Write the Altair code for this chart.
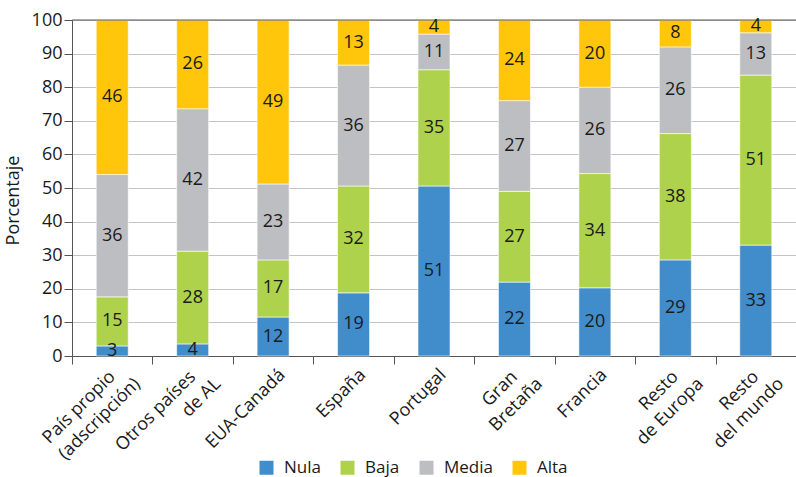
import altair as alt
import pandas as pd

categories = ["País propio (adscripción)", "Otros países de AL", "EUA-Canadá", "España",
              "Portugal", "Gran Bretaña", "Francia", "Resto de Europa", "Resto del mundo"]
label_line1 = ["País propio", "Otros países", "EUA-Canadá", "España", "Portugal",
               "Gran", "Francia", "Resto", "Resto"]
label_line2 = ["(adscripción)", "de AL", "", "", "", "Bretaña", "", "de Europa", "del mundo"]
levels = ["Nula", "Baja", "Media", "Alta"]
colors = ["#418CCB", "#AED24B", "#BDBEC1", "#FFC60B"]

nula = [3.0, 3.6, 11.6, 18.8, 50.6, 22.0, 20.3, 28.6, 33.0]
baja = [14.6, 27.6, 17.0, 31.8, 34.6, 27.0, 34.0, 37.6, 50.6]
media = [36.4, 42.4, 22.6, 36.0, 10.6, 27.0, 25.7, 25.8, 12.6]
alta = [46.0, 26.4, 48.8, 13.4, 4.2, 24.0, 20.0, 8.0, 3.8]
yticks = [0, 10, 20, 30, 40, 50, 60, 70, 80, 90, 100]

series = [nula, baja, media, alta]
rows = []
for li, (lvl, vals) in enumerate(zip(levels, series)):
    for c, v in zip(categories, vals):
        rows.append({"cat": c, "level": lvl, "value": v, "order": li})
df = pd.DataFrame(rows)
labels_df = pd.DataFrame({"cat": categories, "l1": label_line1, "l2": label_line2})

FONT = "Open Sans"
TXT = "#1a1a1a"

yaxis = alt.Axis(values=yticks, title="Porcentaje", labelOverlap=False,
                 titleFont=FONT, titleFontSize=18, titleFontWeight="normal",
                 titleColor=TXT, titlePadding=9, titleY=180,
                 labelFont=FONT, labelFontSize=18, labelColor=TXT,
                 labelPadding=2, tickSize=8, tickColor="#555555",
                 domainColor="#555555", gridColor="#C4C4C4")
yscale = alt.Scale(domain=[0, 100], nice=False)

xaxis = alt.Axis(labels=False, tickBand="extent", tickSize=8, tickColor="#555555",
                 domainColor="#555555", grid=False, title=None)
xscale = alt.Scale(paddingInner=0, paddingOuter=0)
xenc = alt.X("cat:N", sort=categories, title=None, scale=xscale, axis=xaxis)

base = alt.Chart(df).transform_stack(
    stack="value", groupby=["cat"], as_=["y0", "y1"],
    sort=[alt.SortField("order", order="ascending")]
).transform_calculate(mid="(datum.y0 + datum.y1) / 2")

bars = base.mark_bar(size=32, stroke="white", strokeWidth=0.6).encode(
    x=xenc,
    y=alt.Y("y0:Q", scale=yscale, axis=yaxis),
    y2="y1:Q",
    color=alt.Color("level:N", scale=alt.Scale(domain=levels, range=colors),
                    legend=alt.Legend(title=None, orient="none", direction="horizontal",
                                      legendX=186, legendY=439,
                                      symbolType="square", symbolSize=196,
                                      symbolStrokeWidth=0,
                                      labelFont=FONT, labelFontSize=17,
                                      labelColor=TXT, labelOffset=9,
                                      columnPadding=18)),
    order=alt.Order("order:Q"),
)

text = base.mark_text(font=FONT, fontSize=18, color=TXT).encode(
    x=xenc,
    y=alt.Y("mid:Q", scale=yscale, axis=yaxis),
    text=alt.Text("value:Q", format=".0f"),
)

top = alt.Chart(pd.DataFrame({"y": [100]})).mark_rule(color="#555555", strokeWidth=1).encode(
    y=alt.Y("y:Q", scale=yscale, axis=yaxis)
)

lab = alt.Chart(labels_df)
lab_kw = dict(font=FONT, fontSize=18, color=TXT, angle=315, align="right", baseline="top")
single = lab.transform_filter("datum.l2 == ''").mark_text(xOffset=3, **lab_kw).encode(
    x=xenc, y=alt.value(346), text="l1:N")
first = lab.transform_filter("datum.l2 != ''").mark_text(xOffset=-6, **lab_kw).encode(
    x=xenc, y=alt.value(348), text="l1:N")
second = lab.transform_filter("datum.l2 != ''").mark_text(xOffset=19, **lab_kw).encode(
    x=xenc, y=alt.value(355), text="l2:N")

chart = alt.layer(bars, top, text, single, first, second).properties(
    width=724, height=336,
    autosize=alt.AutoSizeParams(type="none"),
    padding={"left": 72, "top": 20, "right": 0, "bottom": 121},
    background="white",
).configure_view(stroke=None)

chart.save("out.html", embed_options={"renderer": "svg", "actions": False})
